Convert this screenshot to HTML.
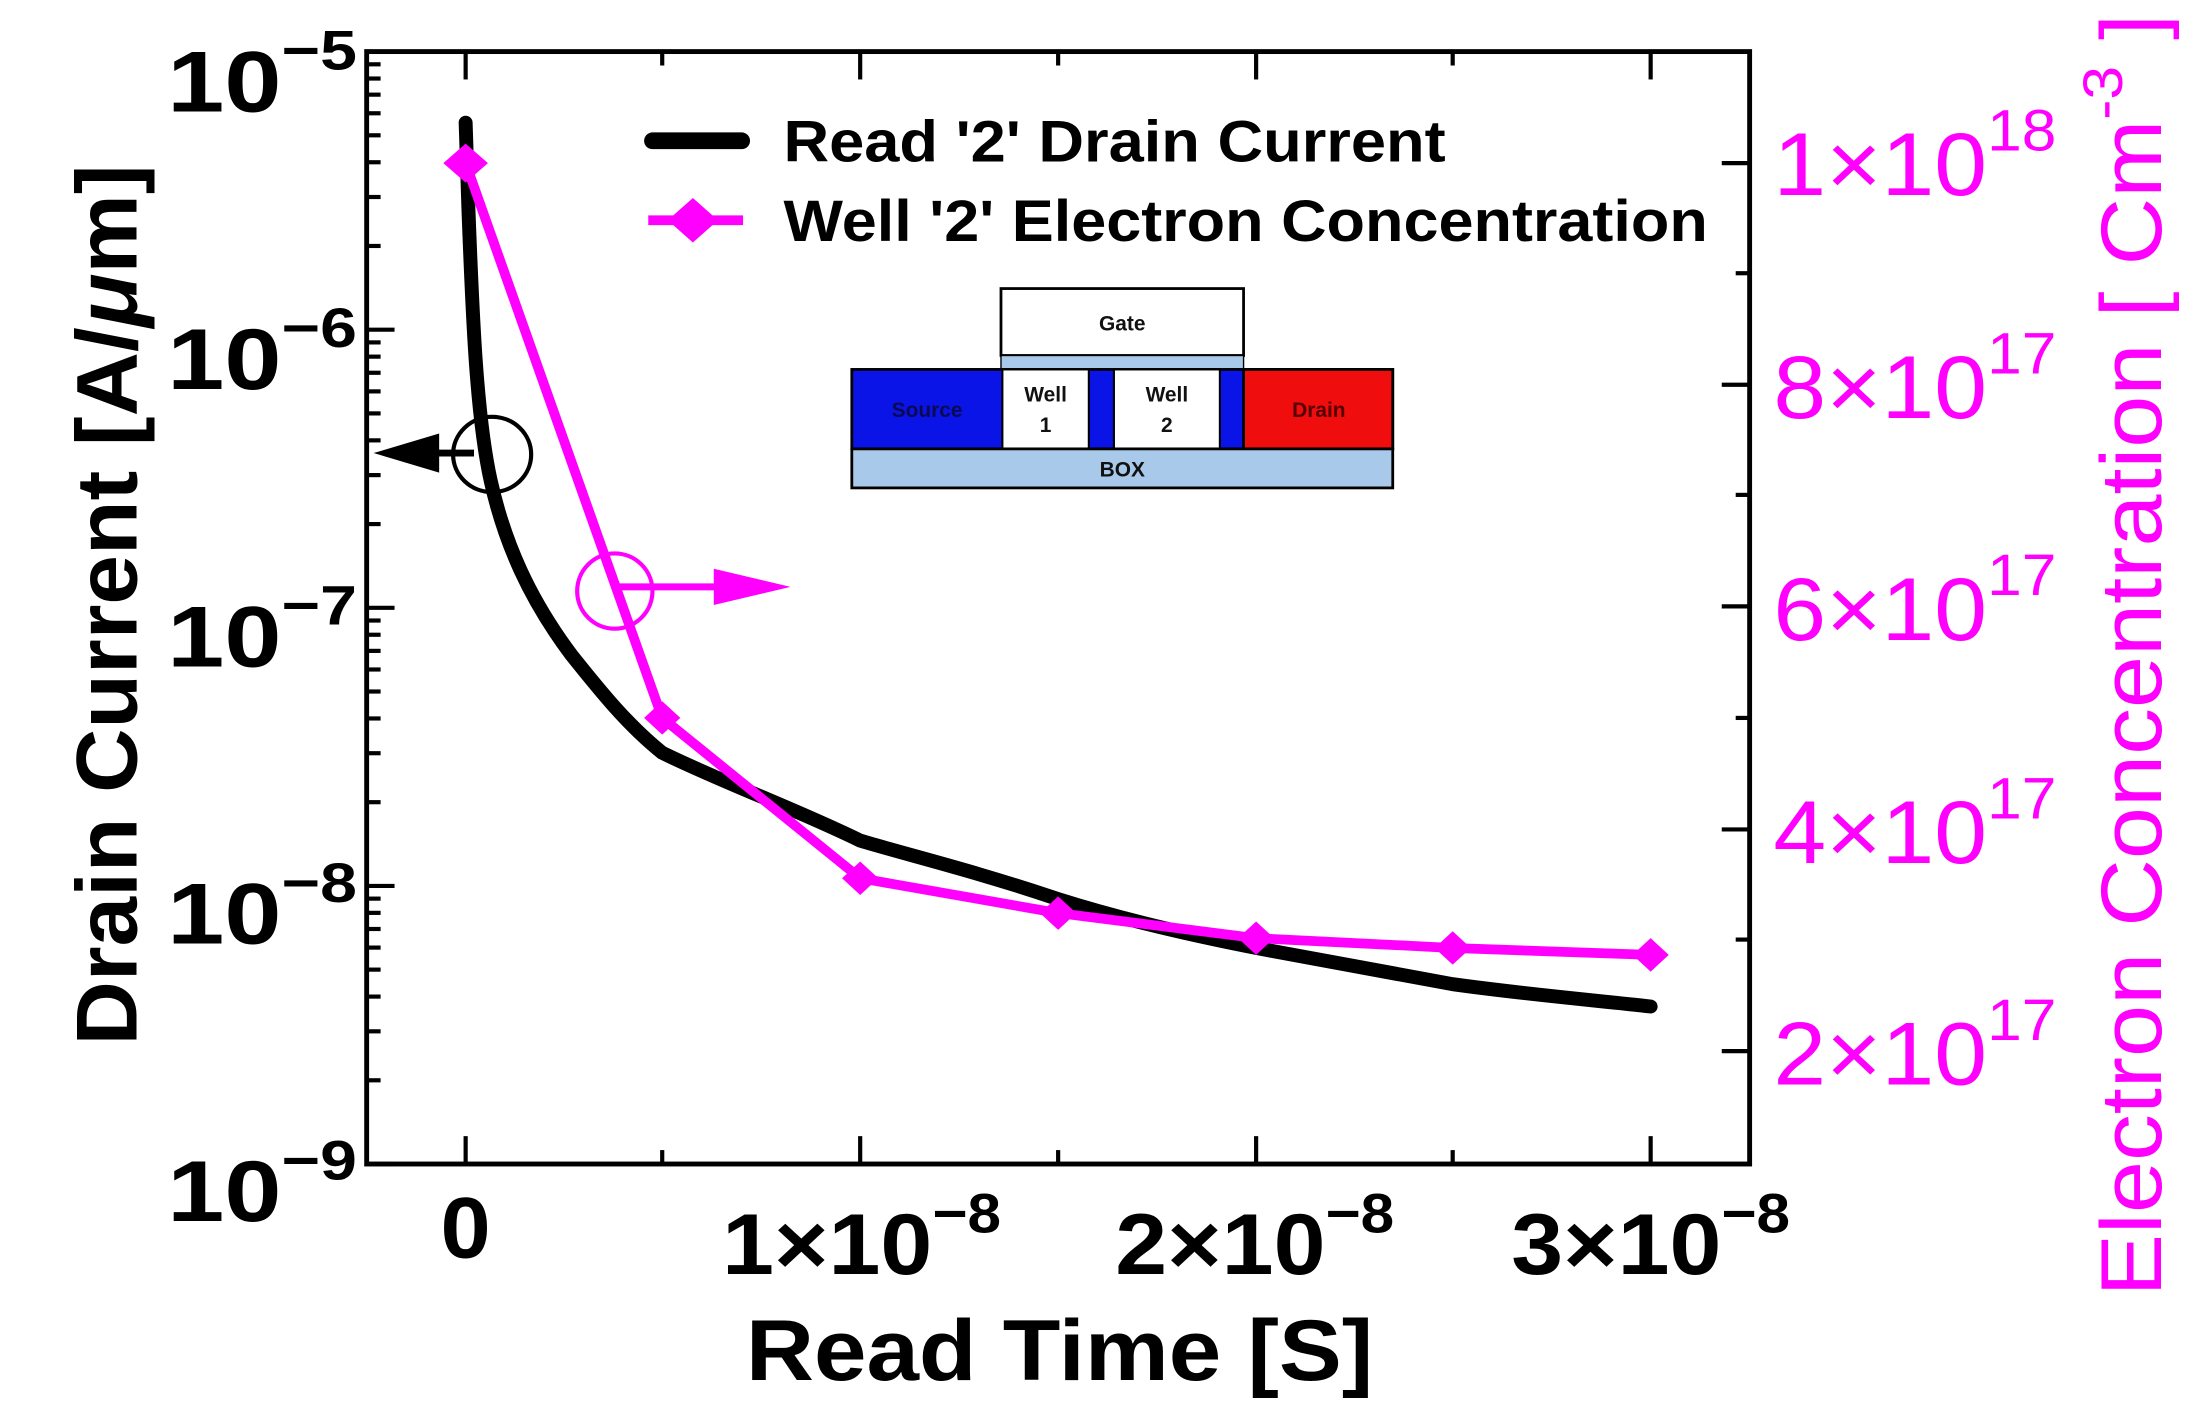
<!DOCTYPE html>
<html><head><meta charset="utf-8"><style>
html,body{margin:0;padding:0;background:#fff;}
svg{display:block;}
text{font-family:"Liberation Sans",Arial,sans-serif;}
</style></head><body>
<svg id="s" width="2186" height="1401" viewBox="0 0 1568 1005" preserveAspectRatio="none" xmlns="http://www.w3.org/2000/svg">
<rect x="0" y="0" width="1568" height="1005" fill="#fff"/>
<g id="ticks" stroke="#000" stroke-width="3"></g>
<rect x="263" y="37" width="992" height="798" fill="none" stroke="#000" stroke-width="3.5"/>

<g stroke="#000" stroke-width="2">
<rect x="718" y="207" width="174" height="48" fill="#fff"/>
<rect x="718" y="255" width="174" height="10" fill="#a9c9ea" stroke-width="1"/>
<rect x="611" y="265" width="388" height="57" fill="#0a14e6"/>
<rect x="892" y="265" width="107" height="57" fill="#f00d0d"/>
<rect x="719" y="265" width="62" height="57" fill="#fff" stroke-width="1.5"/>
<rect x="799" y="265" width="76" height="57" fill="#fff" stroke-width="1.5"/>
<rect x="611" y="322" width="388" height="28" fill="#a9c9ea"/>
</g>
<g font-weight="bold" font-size="15" text-anchor="middle" fill="#111">
<text x="805" y="237">Gate</text>
<text x="665" y="299" fill="#0a0a50">Source</text>
<text x="946" y="299" fill="#500">Drain</text>
<text x="750" y="288">Well</text><text x="750" y="310">1</text>
<text x="837" y="288">Well</text><text x="837" y="310">2</text>
<text x="805" y="342">BOX</text>
</g>

<path d="M334,88 L336,150 C339,230 342,300 352,345 C362,390 380,430 410,470 C430,495 450,520 475,540 C520,562 570,580 617,603 C650,613 700,625 759,645 C800,658 850,670 901,680 C970,693 1042,706 1042,706 C1100,714 1150,718 1184,722" fill="none" stroke="#000" stroke-width="10" stroke-linejoin="round" stroke-linecap="round"/>
<g fill="#ff00ff">
<polyline points="334,117 475,515 617,630 759,655 901,673 1042,680 1184,685" fill="none" stroke="#ff00ff" stroke-width="7" stroke-linejoin="round"/>
<polygon points="334,103 350,117 334,131 318,117"/>
<polygon points="475,503 488,515 475,527 462,515"/>
<polygon points="617,618 630,630 617,642 604,630"/>
<polygon points="759,643 772,655 759,667 746,655"/>
<polygon points="901,661 914,673 901,685 888,673"/>
<polygon points="1042,668 1055,680 1042,692 1029,680"/>
<polygon points="1184,673 1197,685 1184,697 1171,685"/>
</g>

<ellipse cx="353" cy="326" rx="28" ry="27" fill="none" stroke="#000" stroke-width="3"/>
<line x1="300" y1="325" x2="340" y2="325" stroke="#000" stroke-width="5"/>
<polygon points="268,325 315,311 315,339" fill="#000"/>
<ellipse cx="441" cy="424" rx="27" ry="27" fill="none" stroke="#ff00ff" stroke-width="3"/>
<line x1="441" y1="421" x2="520" y2="421" stroke="#ff00ff" stroke-width="5"/>
<polygon points="567,421 512,408 512,434" fill="#ff00ff"/>

<line x1="468" y1="101" x2="532" y2="101" stroke="#000" stroke-width="12" stroke-linecap="round"/>
<text x="562" y="116" font-size="42" font-weight="bold" textLength="475" lengthAdjust="spacingAndGlyphs">Read '2' Drain Current</text>
<line x1="465" y1="158" x2="533" y2="158" stroke="#ff00ff" stroke-width="7"/>
<polygon points="497,142 515,158 497,174 479,158" fill="#ff00ff"/>
<text x="562" y="173" font-size="42" font-weight="bold" textLength="663" lengthAdjust="spacingAndGlyphs">Well '2' Electron Concentration</text>

<g font-size="62" font-weight="bold">
<text x="120" y="80" textLength="136" lengthAdjust="spacingAndGlyphs">10<tspan dy="-30" font-size="40">−5</tspan></text>
<text x="120" y="279" textLength="136" lengthAdjust="spacingAndGlyphs">10<tspan dy="-30" font-size="40">−6</tspan></text>
<text x="120" y="478" textLength="136" lengthAdjust="spacingAndGlyphs">10<tspan dy="-30" font-size="40">−7</tspan></text>
<text x="120" y="677" textLength="136" lengthAdjust="spacingAndGlyphs">10<tspan dy="-30" font-size="40">−8</tspan></text>
<text x="120" y="876" textLength="136" lengthAdjust="spacingAndGlyphs">10<tspan dy="-30" font-size="40">−9</tspan></text>
</g>
<g font-size="62" font-weight="bold">
<text x="316" y="902" textLength="36" lengthAdjust="spacingAndGlyphs">0</text>
<text x="518" y="914" textLength="200" lengthAdjust="spacingAndGlyphs">1×10<tspan dy="-30" font-size="40">−8</tspan></text>
<text x="800" y="914" textLength="200" lengthAdjust="spacingAndGlyphs">2×10<tspan dy="-30" font-size="40">−8</tspan></text>
<text x="1084" y="914" textLength="200" lengthAdjust="spacingAndGlyphs">3×10<tspan dy="-30" font-size="40">−8</tspan></text>
</g>
<g font-size="64" fill="#ff00ff">
<text x="1272" y="140" textLength="203" lengthAdjust="spacingAndGlyphs">1×10<tspan dy="-32" font-size="42">18</tspan></text>
<text x="1272" y="300" textLength="203" lengthAdjust="spacingAndGlyphs">8×10<tspan dy="-32" font-size="42">17</tspan></text>
<text x="1272" y="459" textLength="203" lengthAdjust="spacingAndGlyphs">6×10<tspan dy="-32" font-size="42">17</tspan></text>
<text x="1272" y="619" textLength="203" lengthAdjust="spacingAndGlyphs">4×10<tspan dy="-32" font-size="42">17</tspan></text>
<text x="1272" y="778" textLength="203" lengthAdjust="spacingAndGlyphs">2×10<tspan dy="-32" font-size="42">17</tspan></text>
</g>
<text x="535" y="990" font-size="62" font-weight="bold" textLength="450" lengthAdjust="spacingAndGlyphs">Read Time [S]</text>
<text transform="translate(98,750) rotate(-90)" font-size="62" font-weight="bold" textLength="632" lengthAdjust="spacingAndGlyphs">Drain Current [A/<tspan font-style="italic">μ</tspan>m]</text>
<text transform="translate(1550,930) rotate(-90)" font-size="62" fill="#ff00ff" textLength="920" lengthAdjust="spacingAndGlyphs">Electron Concentration [ Cm<tspan dy="-28" font-size="40">-3</tspan><tspan dy="28"> ]</tspan></text>
</svg>
<script>
var g=document.getElementById('ticks'),ns='http://www.w3.org/2000/svg';
function L(x1,y1,x2,y2){var l=document.createElementNS(ns,'line');l.setAttribute('x1',x1);l.setAttribute('y1',y1);l.setAttribute('x2',x2);l.setAttribute('y2',y2);g.appendChild(l);}
var D=199.5,B=835;
for(var d=0;d<=4;d++){var yb=B-d*D;L(263,yb,283,yb);if(d<4)for(var k=2;k<=9;k++){var y=yb-D*Math.log10(k);L(263,y,273,y);}}
var xs=[334,617,901,1184],xm=[475,759,1042];
xs.forEach(function(x){L(x,835,x,815);L(x,37,x,57);});
xm.forEach(function(x){L(x,835,x,825);L(x,37,x,47);});
var ry=[117,276,435,595,754];ry.forEach(function(y){L(1255,y,1235,y);});
[196,355,515,674].forEach(function(y){L(1255,y,1245,y);});
</script>
</body></html>
